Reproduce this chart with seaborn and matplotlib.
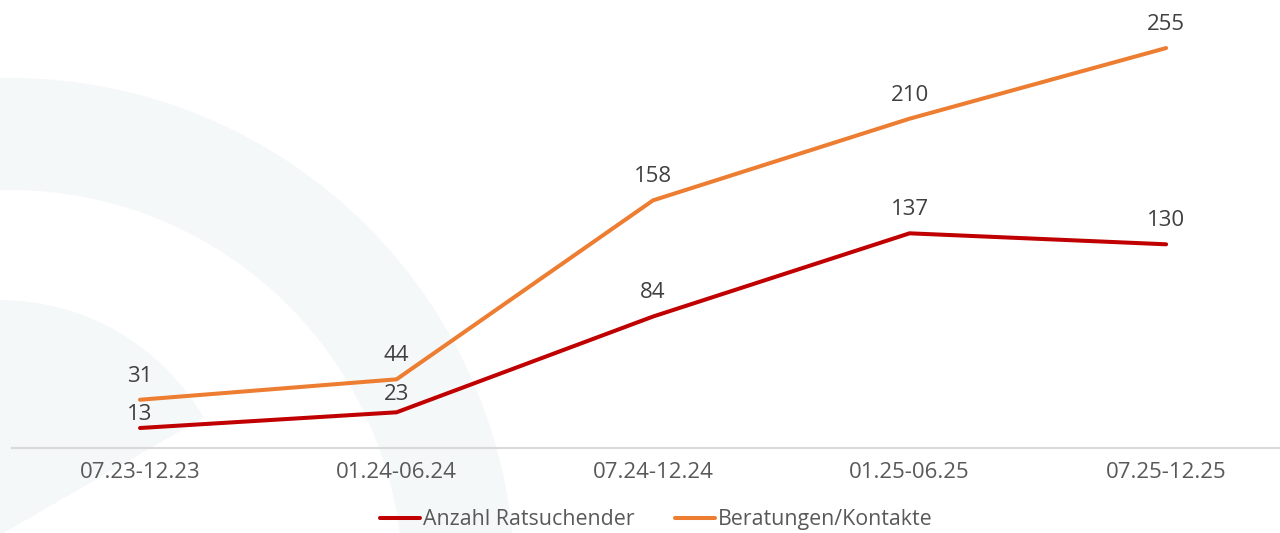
import pandas as pd
import matplotlib.pyplot as plt
import seaborn as sns
from matplotlib.patches import Wedge

# chart data
periods = ["07.23-12.23", "01.24-06.24", "07.24-12.24", "01.25-06.25", "07.25-12.25"]
ratsuchende = [13, 23, 84, 137, 130]
beratungen = [31, 44, 158, 210, 255]
series_names = ["Anzahl Ratsuchender", "Beratungen/Kontakte"]

RED = "#C00000"
ORANGE = "#ED7D31"


def build_frame():
    df = pd.DataFrame({
        "Zeitraum": periods * 2,
        "Wert": ratsuchende + beratungen,
        "Reihe": [series_names[0]] * len(periods) + [series_names[1]] * len(periods),
    })
    df["pos"] = list(range(len(periods))) * 2
    return df


def draw_background(fig):
    # faint decorative arcs behind the chart
    bg = fig.add_axes([0, 0, 1, 1], zorder=0)
    bg.set_xlim(0, 1280)
    bg.set_ylim(0, 533)
    bg.axis("off")
    shade = "#f5f8f9"
    bg.add_patch(Wedge((10, -50), 505, 0, 180, width=112, color=shade, lw=0))
    bg.add_patch(Wedge((0, -2), 235, 30, 90, color=shade, lw=0))


def main():
    sns.set_theme(style="white")
    plt.rcParams["font.family"] = ["Open Sans", "DejaVu Sans"]

    df = build_frame()

    fig = plt.figure(figsize=(12.8, 5.33), dpi=100)
    draw_background(fig)

    ax = fig.add_axes([0.00918, 0.1587, 1 - 0.00918, 1 - 0.1587], zorder=1)
    ax.patch.set_alpha(0)

    sns.lineplot(data=df, x="pos", y="Wert", hue="Reihe",
                 palette=[RED, ORANGE], linewidth=2.9, ax=ax,
                 legend=False, sort=False)

    ax.set_xlim(-0.5, 4.444)
    ax.set_ylim(0, 285.6)

    # value labels above each point
    red_offsets = [10, 13, 17, 17, 17]
    for i, v in enumerate(ratsuchende):
        ax.annotate(str(v), (i, v), xytext=(0, red_offsets[i]), textcoords="offset points",
                    ha="center", va="center", fontsize=16, color="#404040")
    for i, v in enumerate(beratungen):
        ax.annotate(str(v), (i, v), xytext=(0, 17), textcoords="offset points",
                    ha="center", va="center", fontsize=16, color="#404040")

    ax.set_xticks(range(len(periods)))
    ax.set_xticklabels(periods, fontsize=16, color="#595959")
    ax.tick_params(axis="x", length=0, pad=10)
    ax.set_yticks([])
    ax.set_xlabel("")
    ax.set_ylabel("")
    for side in ["top", "right", "left"]:
        ax.spines[side].set_visible(False)
    ax.spines["bottom"].set_color("#d9d9d9")
    ax.spines["bottom"].set_linewidth(1.5)

    handles = [plt.Line2D([], [], color=RED, lw=2.9),
               plt.Line2D([], [], color=ORANGE, lw=2.9)]
    fig.legend(handles, series_names, loc="center", bbox_to_anchor=(0.513, 0.025),
               ncol=2, frameon=False, fontsize=15.4, handlelength=1.85,
               handletextpad=0.15, columnspacing=1.9, labelcolor="#595959")

    fig.savefig("out.png", dpi=100)


if __name__ == "__main__":
    main()
